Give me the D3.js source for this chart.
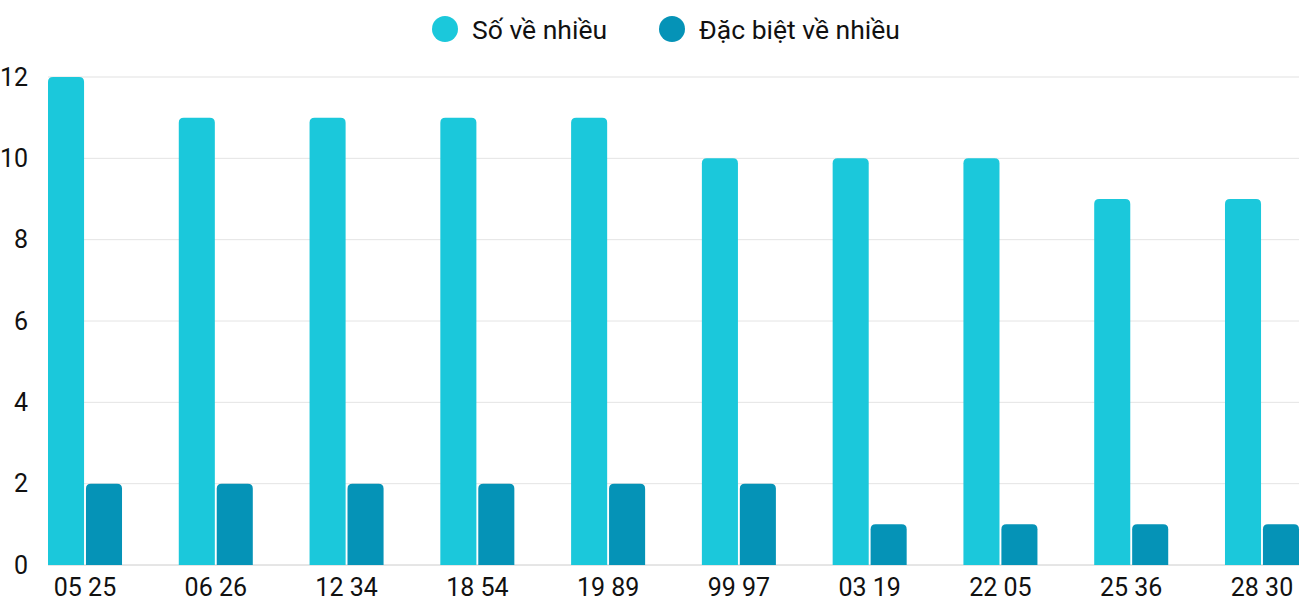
<!DOCTYPE html>
<html>
<head>
<meta charset="utf-8">
<script src="https://cdn.jsdelivr.net/npm/d3@7"></script>
<style>
  body { margin: 0; background: #fff; }
  text { font-family: Roboto, "Noto Sans", sans-serif; fill: #111; }
</style>
</head>
<body>
<div id="chart"></div>
<script>
const width = 1300
const height = 600
const margin = { top: 77, right: 1, bottom: 35, left: 48 }

// data
const categories = ["05 25", "06 26", "12 34", "18 54", "19 89", "99 97", "03 19", "22 05", "25 36", "28 30"]
const seriesNames = ["Số về nhiều", "Đặc biệt về nhiều"]
const soVeNhieu = [12, 11, 11, 11, 11, 10, 10, 10, 9, 9]
const dacBietVeNhieu = [2, 2, 2, 2, 2, 2, 1, 1, 1, 1]
const yTicks = [0, 2, 4, 6, 8, 10, 12]
const colors = ["#1bc8db", "#0593b7"]

const data = categories.map((c, i) => ({ cat: c, values: [soVeNhieu[i], dacBietVeNhieu[i]] }))

const svg = d3.select("div#chart").append("svg").attr("width", width).attr("height", height)

const x = d3.scaleBand().domain(categories).range([margin.left, width - margin.right]).paddingInner(0.434).paddingOuter(0)
const x1 = d3.scaleBand().domain([0, 1]).range([0, x.bandwidth()]).paddingInner(0.05)
const y = d3.scaleLinear().domain([0, 12]).range([height - margin.bottom, margin.top])

// grid
svg.append("g").selectAll("line").data(yTicks).join("line")
    .attr("x1", margin.left).attr("x2", width - margin.right)
    .attr("y1", d => y(d)).attr("y2", d => y(d))
    .attr("stroke", d => d === 0 ? "#cccccc" : (d === 12 ? "#f0f0f0" : "#e4e4e4"))
    .attr("stroke-width", d => d === 12 ? 2 : 1)

// y labels
svg.append("g").selectAll("text").data(yTicks).join("text")
    .attr("x", 28).attr("y", d => y(d))
    .attr("text-anchor", "end").attr("dominant-baseline", "central")
    .style("font-size", "25px")
    .text(d => d)

// rounded-top bar path
function barPath(x0, w, yTop, yBase, r) {
    r = Math.min(r, w / 2, yBase - yTop)
    return `M${x0},${yBase}V${yTop + r}Q${x0},${yTop} ${x0 + r},${yTop}H${x0 + w - r}Q${x0 + w},${yTop} ${x0 + w},${yTop + r}V${yBase}Z`
}

const groups = svg.append("g").selectAll("g").data(data).join("g")
    .attr("transform", d => `translate(${x(d.cat)},0)`)

groups.selectAll("path").data(d => d.values.map((v, i) => ({ v, i }))).join("path")
    .attr("d", d => barPath(x1(d.i), x1.bandwidth(), y(d.v), y(0), 5))
    .attr("fill", d => colors[d.i])

// x labels
svg.append("g").selectAll("text").data(categories).join("text")
    .attr("x", d => x(d) + x.bandwidth() / 2).attr("y", 587)
    .attr("text-anchor", "middle").attr("dominant-baseline", "central")
    .style("font-size", "25px")
    .text(d => d)

// legend
const legendX = [445, 672]
const legend = svg.append("g").selectAll("g").data(seriesNames).join("g")
    .attr("transform", (d, i) => `translate(${legendX[i]},29)`)
legend.append("circle").attr("r", 13).attr("fill", (d, i) => colors[i])
legend.append("text").attr("x", 27).attr("dominant-baseline", "central")
    .style("font-size", "26.5px").text(d => d)
</script>
</body>
</html>
